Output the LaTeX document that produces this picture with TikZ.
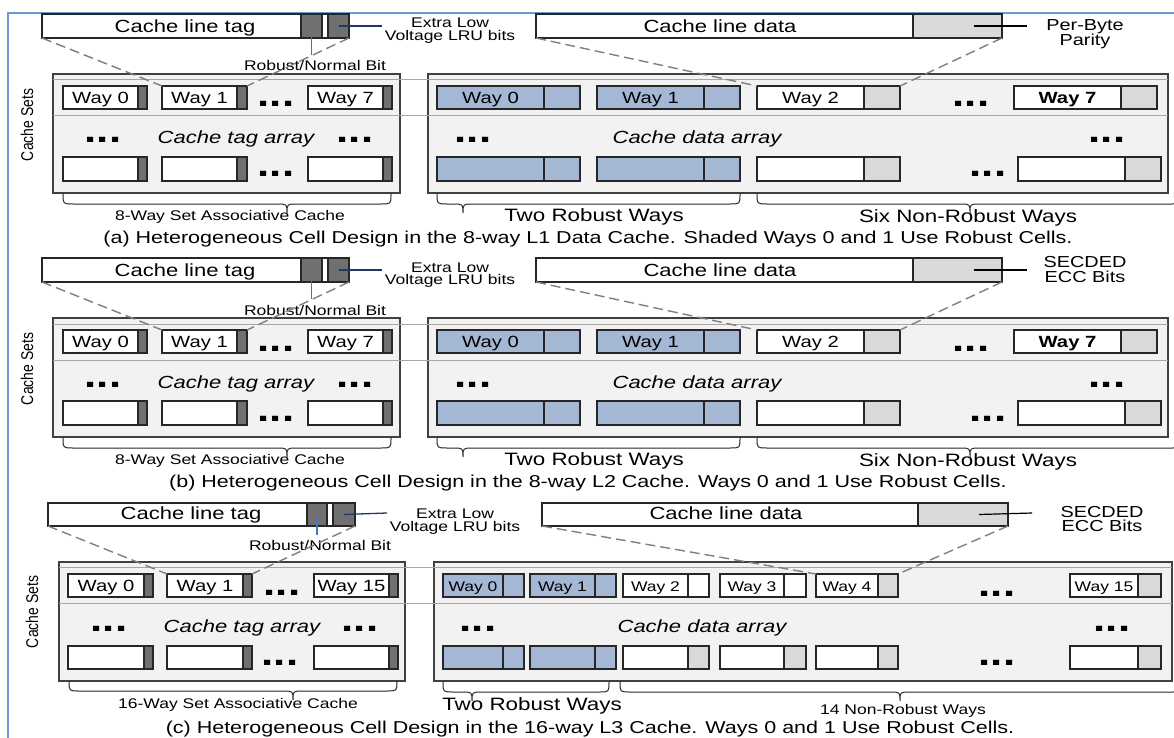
\documentclass[tikz,border=0pt]{standalone}
\usepackage{fontspec}
\setmainfont{Liberation Sans}[FakeStretch=1.25]
\newfontfamily\setsfont{Liberation Sans}[FakeStretch=0.82]
\definecolor{robustblue}{RGB}{164,183,212}
\definecolor{bitdark}{RGB}{112,112,112}
\definecolor{paritygray}{RGB}{217,217,217}
\definecolor{arrayfill}{RGB}{242,242,242}
\definecolor{framec}{RGB}{108,153,212}
\definecolor{rblinec}{RGB}{68,114,196}
\definecolor{lrulinec}{RGB}{31,56,100}
\definecolor{dashc}{RGB}{128,128,128}
\definecolor{edgec}{RGB}{64,64,64}
\newcommand\fway{\fontsize{16.2}{18}\selectfont}
\newcommand\fwaysm{\fontsize{14}{16}\selectfont}
\tikzset{
  cell/.style={draw=black!85, line width=1.1pt, rectangle},
  arraybox/.style={draw=edgec, line width=1.2pt, fill=arrayfill, rectangle},
  bandline/.style={draw=black!35, line width=1pt},
  dashcon/.style={draw=dashc, line width=1.4pt, dash pattern=on 10pt off 5pt},
  bracepath/.style={draw=black!85, line width=1pt},
  rbl/.style={draw=rblinec, line width=1.5pt},
  lrul/.style={draw=lrulinec, line width=1.3pt},
  parl/.style={draw=black, line width=1.2pt},
  txt/.style={inner sep=0pt, outer sep=0pt, anchor=base},
  fbig/.style={font=\fontsize{17.6}{20}\selectfont},
  farr/.style={font=\fontsize{17.6}{20}\selectfont\itshape},
  fsmall/.style={font=\fontsize{14}{16}\selectfont},
  fmid/.style={font=\fontsize{15.9}{18}\selectfont},
  fbr/.style={font=\fontsize{17.9}{20}\selectfont},
  fcap/.style={font=\fontsize{17.2}{20}\selectfont},
  fdots/.style={font=\fontsize{35}{38}\selectfont\bfseries},
  fsets/.style={font=\setsfont\fontsize{17}{19}\selectfont},
}
% box node from (x1,y1) to (x2,y2)
\newcommand\boxat[6]{\node[#6, inner sep=0pt, outer sep=0pt, minimum width={#4pt-#2pt}, minimum height={#5pt-#3pt}] (#1) at ({(#2+#4)/2},{(#3+#5)/2}) {};}
% way: name, x1, xsplit, x2, y1, y2, main fill, bit fill, label
\newcommand\wayb[9]{%
  \node[cell, fill=#7, inner sep=0pt, outer sep=0pt, minimum width={#3pt-#2pt}, minimum height={#6pt-#5pt}] (#1) at ({(#2+#3)/2},{(#5+#6)/2}) {};
  \node[cell, fill=#8, inner sep=0pt, outer sep=0pt, minimum width={#4pt-#3pt}, minimum height={#6pt-#5pt}] (#1b) at ({(#3+#4)/2},{(#5+#6)/2}) {};
  \node[txt] (#1l) at ([yshift=-5.6pt]#1.center) {#9};}
% brace: x1, x2, xtip, ytop
\newcommand\bracedown[4]{\draw[bracepath] (#1,#4) .. controls (#1,#4+10) .. (#1+10,#4+10) -- (#3-10,#4+10) .. controls (#3,#4+10) .. (#3,#4+19) .. controls (#3,#4+10) .. (#3+10,#4+10) -- (#2-10,#4+10) .. controls (#2,#4+10) .. (#2,#4);}
% panel (a)/(b)
\newcommand\panelab[6]{%
\begin{scope}[yshift=#2]
  \boxat{#1-ta}{53}{74}{400}{193}{arraybox}
  \boxat{#1-da}{428}{74}{1168}{193}{arraybox}
  \draw[bandline] (53,80) -- (1168,80);
  \draw[bandline] (53,116) -- (1168,116);
  \node[fsets, rotate=90] (#1-sets) at (27,125) {Cache Sets};
  % line boxes
  \boxat{#1-tl}{42}{14}{349}{38}{cell, fill=white}
  \boxat{#1-rb}{301}{14}{322}{38}{cell, fill=bitdark}
  \boxat{#1-lru}{328}{14}{349}{38}{cell, fill=bitdark}
  \node[txt, fbig] (#1-tltext) at (185,32.2) {Cache line tag};
  \boxat{#1-dl}{536}{14}{1002}{38}{cell, fill=white}
  \boxat{#1-par}{913}{14}{1002}{38}{cell, fill=paritygray}
  \node[txt, fbig] (#1-dltext) at (720,32.2) {Cache line data};
  \coordinate (#1-rbend) at (311.5,55);
  \draw[rbl] (#1-rb.center) -- (#1-rbend);
  \node[txt, fsmall] (#1-rbtext) at (315,71) {Robust/Normal Bit};
  \coordinate (#1-lruend) at (382,26);
  \draw[lrul] (#1-lru.center) -- (#1-lruend);
  \node[txt, fsmall] (#1-lrut1) at (450,28) {Extra Low};
  \node[txt, fsmall] (#1-lrut2) at (450,40.5) {Voltage LRU bits};
  \coordinate (#1-pare) at (1027,26);
  \draw[parl] ([xshift=16pt]#1-par.center) -- (#1-pare);
  \node[txt, fmid] (#1-pt1) at (1085,30.7+#5) {#3};
  \node[txt, fmid] (#1-pt2) at (1085,45.5+#5) {#4};
  % tag ways
  \wayb{#1-t0}{63}{138}{147}{86}{109}{white}{bitdark}{\fway Way 0}
  \wayb{#1-t1}{162}{237}{247}{86}{109}{white}{bitdark}{\fway Way 1}
  \wayb{#1-t7}{308}{383}{392}{86}{109}{white}{bitdark}{\fway Way 7}
  \wayb{#1-u0}{63}{138}{147}{157}{181}{white}{bitdark}{}
  \wayb{#1-u1}{162}{237}{247}{157}{181}{white}{bitdark}{}
  \wayb{#1-u7}{308}{383}{392}{157}{181}{white}{bitdark}{}
  % data ways
  \wayb{#1-d0}{437}{544}{580}{86}{109}{robustblue}{robustblue}{\fway Way 0}
  \wayb{#1-d1}{597}{704}{740}{86}{109}{robustblue}{robustblue}{\fway Way 1}
  \wayb{#1-d2}{757}{864}{900}{86}{109}{white}{paritygray}{\fway Way 2}
  \wayb{#1-d7}{1014}{1121}{1157}{86}{109}{white}{paritygray}{\fway\bfseries Way 7}
  \wayb{#1-e0}{437}{544}{580}{157}{181}{robustblue}{robustblue}{}
  \wayb{#1-e1}{597}{704}{740}{157}{181}{robustblue}{robustblue}{}
  \wayb{#1-e2}{757}{864}{900}{157}{181}{white}{paritygray}{}
  \wayb{#1-e7}{1018}{1125}{1161}{157}{181}{white}{paritygray}{}
  % dots and array labels
  \node[txt, fdots] (#1-dt1) at (276,107) {...};
  \node[txt, fdots] (#1-dt2) at (103,143) {...};
  \node[txt, fdots] (#1-dt3) at (355,143) {...};
  \node[txt, fdots] (#1-dt4) at (276,177) {...};
  \node[txt, fdots] (#1-dd1) at (971,107) {...};
  \node[txt, fdots] (#1-dd2) at (473,143) {...};
  \node[txt, fdots] (#1-dd3) at (1107,143) {...};
  \node[txt, fdots] (#1-dd4) at (988,177) {...};
  \node[txt, farr] (#1-tatext) at (236,144) {Cache tag array};
  \node[txt, farr] (#1-datext) at (697,144) {Cache data array};
  % dashed connectors
  \draw[dashcon] (#1-tl.south west) -- (#1-t1.north west);
  \draw[dashcon] (#1-tl.south east) -- (#1-t1b.north east);
  \draw[dashcon] (#1-dl.south west) -- (#1-d2.north west);
  \draw[dashcon] (#1-dl.south east) -- (#1-d2b.north east);
  % braces
  \bracedown{63}{391}{287}{194}
  \bracedown{437}{740}{463}{194}
  \bracedown{757}{1182}{970}{194}
  \node[txt, fsmall] (#1-br1) at (230,220) {8-Way Set Associative Cache};
  \node[txt, fbr] (#1-br2) at (594,221.5) {Two Robust Ways};
  \node[txt, fbr] (#1-br3) at (968,222.5) {Six Non-Robust Ways};
  \node[txt, fcap] (#1-cap) at (588,243) {#6};
\end{scope}}
\begin{document}
\begin{tikzpicture}[x=1pt, y=-1pt]
\useasboundingbox (0,0) rectangle (1174,738);
\fill[white] (0,0) rectangle (1174,738);
\draw[framec, line width=2pt] (8,760) -- (8,13) -- (1195,13);
\panelab{a}{0pt}{Per-Byte}{Parity}{0}{(a) Heterogeneous Cell Design in the 8-way L1 Data Cache. Shaded Ways 0 and 1 Use Robust Cells.}
\panelab{b}{-244pt}{SECDED}{ECC Bits}{-7}{(b) Heterogeneous Cell Design in the 8-way L2 Cache. Ways 0 and 1 Use Robust Cells.}
% panel (c)
\boxat{c-ta}{59}{562}{405}{681}{arraybox}
\boxat{c-da}{434}{562}{1172}{681}{arraybox}
\draw[bandline] (59,567) -- (1172,567);
\draw[bandline] (59,603) -- (1172,603);
\node[fsets, rotate=90] (c-sets) at (32,612) {Cache Sets};
\boxat{c-tl}{48}{503}{355}{526}{cell, fill=white}
\boxat{c-rb}{307}{503}{327}{526}{cell, fill=bitdark}
\boxat{c-lru}{333}{503}{355}{526}{cell, fill=bitdark}
\node[txt, fbig] (c-tltext) at (191,519.2) {Cache line tag};
\boxat{c-dl}{542}{503}{1008}{526}{cell, fill=white}
\boxat{c-par}{918}{503}{1008}{526}{cell, fill=paritygray}
\node[txt, fbig] (c-dltext) at (726,519.2) {Cache line data};
\coordinate (c-rbend) at (317,535);
\draw[rbl] (c-rb.center) -- (c-rbend);
\node[txt, fsmall] (c-rbtext) at (320,550) {Robust/Normal Bit};
\coordinate (c-lruend) at (387,513);
\draw[lrul] (c-lru.center) -- (c-lruend);
\node[txt, fsmall] (c-lrut1) at (455,518) {Extra Low};
\node[txt, fsmall] (c-lrut2) at (455,531) {Voltage LRU bits};
\coordinate (c-pare) at (1032,513);
\draw[parl] ([xshift=16pt]c-par.center) -- (c-pare);
\node[txt, fmid] (c-pt1) at (1102,517.7) {SECDED};
\node[txt, fmid] (c-pt2) at (1102,531.7) {ECC Bits};
% tag ways
\wayb{c-t0}{68}{144}{153}{574}{597}{white}{bitdark}{\fway Way 0}
\wayb{c-t1}{167}{243}{252}{574}{597}{white}{bitdark}{\fway Way 1}
\wayb{c-t15}{314}{389}{398}{574}{597}{white}{bitdark}{\fway Way 15}
\wayb{c-u0}{68}{144}{153}{646}{669}{white}{bitdark}{}
\wayb{c-u1}{167}{243}{252}{646}{669}{white}{bitdark}{}
\wayb{c-u15}{314}{389}{398}{646}{669}{white}{bitdark}{}
% data ways
\wayb{c-d0}{443}{503}{524}{574}{597}{robustblue}{robustblue}{\fwaysm Way 0}
\wayb{c-d1}{530}{595}{616}{574}{597}{robustblue}{robustblue}{\fwaysm Way 1}
\wayb{c-d2}{623}{688}{709}{574}{597}{white}{white}{\fwaysm Way 2}
\wayb{c-d3}{720}{784}{806}{574}{597}{white}{white}{\fwaysm Way 3}
\wayb{c-d4}{816}{878}{898}{574}{597}{white}{paritygray}{\fwaysm Way 4}
\wayb{c-d15}{1070}{1138}{1161}{574}{597}{white}{paritygray}{\fwaysm Way 15}
\wayb{c-e0}{443}{503}{524}{646}{669}{robustblue}{robustblue}{}
\wayb{c-e1}{530}{595}{616}{646}{669}{robustblue}{robustblue}{}
\wayb{c-e2}{623}{688}{709}{646}{669}{white}{paritygray}{}
\wayb{c-e3}{720}{784}{806}{646}{669}{white}{paritygray}{}
\wayb{c-e4}{816}{878}{898}{646}{669}{white}{paritygray}{}
\wayb{c-e15}{1070}{1138}{1161}{646}{669}{white}{paritygray}{}
% dots and array labels
\node[txt, fdots] (c-dt1) at (282,595) {...};
\node[txt, fdots] (c-dt2) at (109,631) {...};
\node[txt, fdots] (c-dt3) at (360,631) {...};
\node[txt, fdots] (c-dt4) at (280,665) {...};
\node[txt, fdots] (c-dd1) at (997,596) {...};
\node[txt, fdots] (c-dd2) at (478,631) {...};
\node[txt, fdots] (c-dd3) at (1112,631) {...};
\node[txt, fdots] (c-dd4) at (997,665) {...};
\node[txt, farr] (c-tatext) at (242,632) {Cache tag array};
\node[txt, farr] (c-datext) at (702,632) {Cache data array};
% dashed connectors
\draw[dashcon] (c-tl.south west) -- (c-t1.north west);
\draw[dashcon] (c-tl.south east) -- (c-t1b.north east);
\draw[dashcon] (c-dl.south west) -- (c-d4.north west);
\draw[dashcon] (c-dl.south east) -- (c-d4b.north east);
% braces
\bracedown{69}{397}{293}{681}
\bracedown{443}{609}{472}{682}
\bracedown{620}{1182}{900}{682}
\node[txt, fsmall] (c-br1) at (238,708.5) {16-Way Set Associative Cache};
\node[txt, fbr] (c-br2) at (532,710.5) {Two Robust Ways};
\node[txt, fsmall] (c-br3) at (903,714.5) {14 Non-Robust Ways};
\node[txt, fcap] (c-cap) at (590,733) {(c) Heterogeneous Cell Design in the 16-way L3 Cache. Ways 0 and 1 Use Robust Cells.};
\end{tikzpicture}
\end{document}
